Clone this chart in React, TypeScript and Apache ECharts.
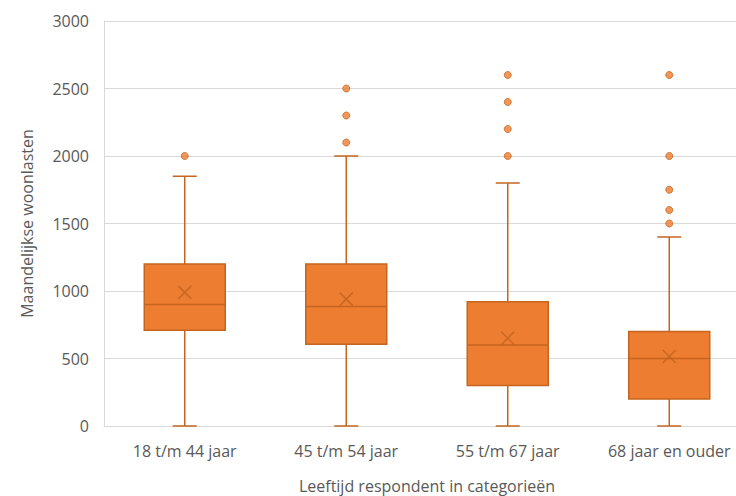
import React, { useEffect, useRef } from "react";
import * as echarts from "echarts";

const categories = ["18 t/m 44 jaar", "45 t/m 54 jaar", "55 t/m 67 jaar", "68 jaar en ouder"];
// [min, Q1, median, Q3, max(whisker)]
const boxStats = [
  [0, 710, 900, 1200, 1850],
  [0, 605, 885, 1200, 2000],
  [0, 300, 600, 920, 1800],
  [0, 200, 500, 700, 1400],
];
const means = [990, 940, 650, 515];
const outliers = [
  [0, 2000],
  [1, 2100], [1, 2300], [1, 2500],
  [2, 2000], [2, 2200], [2, 2400], [2, 2600],
  [3, 1500], [3, 1600], [3, 1750], [3, 2000], [3, 2600],
];
const yTicks = { min: 0, max: 3000, interval: 500 };

const FONT = "'Open Sans', sans-serif";
const FILL = "#ED7D31";
const EDGE = "#C5651F";

export default function App() {
  const ref = useRef<HTMLDivElement>(null);
  useEffect(() => {
    const chart = echarts.init(ref.current!, undefined, { renderer: "svg" });
    const boxData = boxStats.map((s, i) => [i, ...s]);
    chart.setOption({
      animation: false,
      grid: { left: 104, top: 21, bottom: 70, right: -14, outerBoundsMode: "none", containLabel: false },
      xAxis: {
        type: "category",
        data: categories,
        axisTick: { show: false },
        axisLine: { lineStyle: { color: "#D9D9D9" } },
        axisLabel: { color: "#595959", fontFamily: FONT, fontSize: 16, margin: 17 },
        name: "Leeftijd respondent in categorieën",
        nameLocation: "middle",
        nameGap: 52,
        nameTextStyle: { color: "#595959", fontFamily: FONT, fontSize: 16 },
      },
      yAxis: {
        type: "value",
        min: yTicks.min,
        max: yTicks.max,
        interval: yTicks.interval,
        axisLine: { show: true, lineStyle: { color: "#D9D9D9" } },
        axisTick: { show: false },
        splitLine: { lineStyle: { color: "#D9D9D9" } },
        axisLabel: { color: "#595959", fontFamily: FONT, fontSize: 16, margin: 15, formatter: (v: number) => String(v) },
        name: "Maandelijkse woonlasten",
        nameLocation: "middle",
        nameGap: 69,
        nameTextStyle: { color: "#595959", fontFamily: FONT, fontSize: 16 },
      },
      series: [
        {
          type: "custom",
          data: boxData,
          encode: { x: 0, y: [1, 2, 3, 4, 5] },
          renderItem: (params: any, api: any) => {
            const i = api.value(0);
            const pMin = api.coord([i, api.value(1)]);
            const pQ1 = api.coord([i, api.value(2)]);
            const pMed = api.coord([i, api.value(3)]);
            const pQ3 = api.coord([i, api.value(4)]);
            const pMax = api.coord([i, api.value(5)]);
            const cx = pMin[0];
            const bw = 81;
            const cw = 24;
            const ls = { stroke: EDGE, lineWidth: 1.5 };
            return {
              type: "group",
              children: [
                { type: "line", shape: { x1: cx, y1: pMin[1], x2: cx, y2: pQ1[1] }, style: ls },
                { type: "line", shape: { x1: cx, y1: pQ3[1], x2: cx, y2: pMax[1] }, style: ls },
                { type: "line", shape: { x1: cx - cw / 2, y1: pMin[1], x2: cx + cw / 2, y2: pMin[1] }, style: ls },
                { type: "line", shape: { x1: cx - cw / 2, y1: pMax[1], x2: cx + cw / 2, y2: pMax[1] }, style: ls },
                {
                  type: "rect",
                  shape: { x: cx - bw / 2, y: pQ3[1], width: bw, height: pQ1[1] - pQ3[1] },
                  style: { fill: FILL, stroke: EDGE, lineWidth: 1.5 },
                },
                { type: "line", shape: { x1: cx - bw / 2, y1: pMed[1], x2: cx + bw / 2, y2: pMed[1] }, style: ls },
              ],
            };
          },
          z: 2,
        },
        {
          type: "scatter",
          data: means.map((m, i) => [i, m]),
          symbol: "path://M0,0L10,10M10,0L0,10",
          symbolSize: 13,
          itemStyle: { color: "rgba(0,0,0,0)", borderColor: "#C0631E", borderWidth: 1.5 },
          z: 3,
        },
        {
          type: "scatter",
          data: outliers,
          symbol: "circle",
          symbolSize: 7,
          itemStyle: { color: FILL, borderColor: EDGE, borderWidth: 1 },
          z: 3,
        },
      ],
    });
    return () => chart.dispose();
  }, []);
  return (
    <div
      ref={ref}
      style={{ position: "fixed", left: 0, top: 0, width: 736, height: 496, background: "#fff" }}
    />
  );
}
